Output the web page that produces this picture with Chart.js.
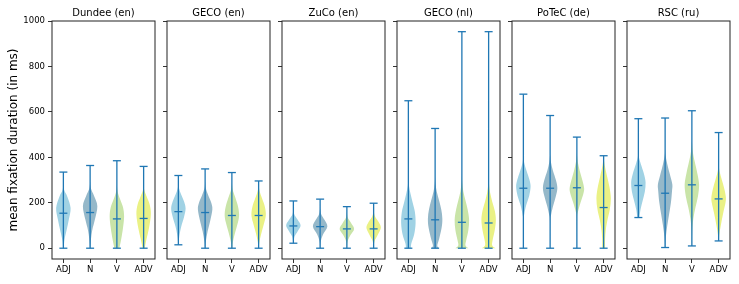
<!DOCTYPE html>
<html>
<head>
<meta charset="utf-8">
<script src="https://cdn.jsdelivr.net/npm/chart.js@4"></script>
<style>
    body { margin: 0; background: #fff; }
    #wrap { position: relative; width: 739px; height: 284px; }
    #wrap canvas { position: absolute; left: 0; top: 0; }
</style>
</head>
<body>
<div id="wrap"></div>
<script>
const panelTitles = ["Dundee (en)", "GECO (en)", "ZuCo (en)", "GECO (nl)", "PoTeC (de)", "RSC (ru)"];
const posTags = ["ADJ", "N", "V", "ADV"];
const yTicks = [0, 200, 400, 600, 800, 1000];

// whisker ends and medians, one row per panel (ADJ, N, V, ADV)
const mins = [[0, 0, 0, 0], [15, 0, 0, 0], [22, 0, 0, 0], [0, 0, 0, 0], [0, 0, 0, 0], [135, 3, 10, 32]];
const maxs = [[335, 364, 385, 360], [320, 349, 333, 296], [208, 216, 183, 198], [649, 527, 953, 953], [678, 584, 489, 407], [570, 573, 605, 509]];
const medians = [[154, 157, 129, 131], [161, 157, 144, 144], [98, 95, 85, 85], [129, 125, 114, 111], [264, 264, 266, 179], [276, 242, 279, 217]];

// violin outlines: [ms, relative half width]
const dundeeShape = [
    [[0, 0.05], [37, 0.15], [80, 0.45], [125, 0.75], [177, 1], [227, 0.55], [257, 0.1], [290, 0]],
    [[0, 0.04], [40, 0.12], [80, 0.3], [125, 0.65], [185, 1], [230, 0.55], [264, 0.1], [295, 0]],
    [[0, 0.35], [40, 0.6], [90, 0.85], [140, 1], [180, 0.85], [215, 0.45], [250, 0.1], [280, 0]],
    [[0, 0.15], [40, 0.4], [90, 0.75], [150, 1], [190, 0.85], [225, 0.45], [255, 0.1], [285, 0]]
];
const gecoEnShape = [
    [[15, 0.03], [50, 0.12], [95, 0.4], [140, 0.8], [175, 1], [205, 0.8], [235, 0.4], [265, 0.08], [295, 0]],
    [[0, 0.03], [30, 0.1], [75, 0.35], [120, 0.7], [170, 1], [200, 0.85], [235, 0.4], [265, 0.08], [295, 0]],
    [[0, 0.04], [30, 0.15], [75, 0.5], [115, 0.85], [150, 1], [190, 0.8], [230, 0.4], [260, 0.1], [290, 0]],
    [[0, 0.03], [30, 0.12], [75, 0.45], [115, 0.8], [150, 1], [190, 0.8], [230, 0.35], [260, 0.08], [285, 0]]
];
const zucoShape = [
    [[22, 0.03], [50, 0.15], [75, 0.6], [100, 1], [125, 0.6], [150, 0.12], [175, 0]],
    [[0, 0.02], [30, 0.08], [60, 0.4], [95, 1], [125, 0.6], [150, 0.15], [175, 0]],
    [[0, 0.02], [30, 0.1], [60, 0.55], [85, 1], [110, 0.6], [135, 0.12], [160, 0]],
    [[0, 0.02], [30, 0.12], [60, 0.6], [90, 1], [115, 0.7], [140, 0.2], [165, 0]]
];
const gecoNlShape = [
    [[0, 0.35], [20, 0.4], [60, 0.8], [110, 1], [160, 0.9], [200, 0.6], [240, 0.3], [275, 0.08], [310, 0]],
    [[0, 0.5], [12, 0.3], [40, 0.55], [90, 0.9], [130, 1], [170, 0.85], [210, 0.55], [250, 0.22], [285, 0.05], [320, 0]],
    [[0, 0.9], [12, 0.5], [35, 0.6], [80, 0.9], [125, 1], [170, 0.8], [210, 0.5], [250, 0.2], [290, 0.05], [330, 0]],
    [[0, 0.95], [12, 0.5], [35, 0.55], [80, 0.85], [125, 1], [165, 0.85], [205, 0.5], [245, 0.2], [285, 0.05], [320, 0]]
];
const potecShape = [
    [[0, 0], [120, 0.02], [150, 0.12], [190, 0.4], [230, 0.8], [270, 1], [300, 0.85], [340, 0.45], [375, 0.12], [410, 0]],
    [[0, 0], [120, 0.02], [150, 0.15], [190, 0.45], [230, 0.8], [265, 1], [300, 0.8], [340, 0.4], [380, 0.1], [415, 0]],
    [[0, 0], [130, 0.03], [160, 0.15], [200, 0.5], [240, 0.9], [265, 1], [300, 0.75], [340, 0.4], [380, 0.12], [420, 0]],
    [[0, 0.2], [40, 0.2], [80, 0.3], [120, 0.5], [170, 0.85], [220, 1], [270, 0.8], [320, 0.45], [365, 0.15], [400, 0]]
];
const rscShape = [
    [[135, 0.15], [170, 0.3], [210, 0.6], [250, 0.9], [290, 1], [330, 0.75], [370, 0.35], [400, 0.08], [430, 0]],
    [[3, 0.03], [50, 0.1], [100, 0.3], [150, 0.55], [200, 0.8], [250, 0.95], [280, 1], [320, 0.7], [370, 0.3], [410, 0.05], [440, 0]],
    [[10, 0.02], [80, 0.05], [130, 0.2], [180, 0.5], [230, 0.85], [280, 1], [330, 0.75], [380, 0.4], [420, 0.15], [460, 0.03], [490, 0]],
    [[32, 0.03], [60, 0.1], [100, 0.3], [150, 0.6], [200, 0.95], [225, 1], [260, 0.8], [300, 0.45], [340, 0.12], [375, 0]]
];
const shapes = [dundeeShape, gecoEnShape, zucoShape, gecoNlShape, potecShape, rscShape];

const fills = ["#a0d2e4", "#95b8c9", "#c9e4a8", "#eaf185"];
const lineBlue = "#1f77b4";
const FONT = "'DejaVu Sans', sans-serif";

const W = 739, H = 284;
const panelLeft = [52, 167, 282, 397, 512, 627];
const panelW = 103;
const halfWidth = 0.27;

function smoothTo(ctx, pts) {
    for (let i = 0; i < pts.length - 1; i++) {
        const p0 = pts[i - 1] || pts[i], p1 = pts[i], p2 = pts[i + 1], p3 = pts[i + 2] || p2;
        ctx.bezierCurveTo(
            p1.x + (p2.x - p0.x) / 6, p1.y + (p2.y - p0.y) / 6,
            p2.x - (p3.x - p1.x) / 6, p2.y - (p3.y - p1.y) / 6,
            p2.x, p2.y);
    }
}

const violinPlugin = {
    id: "violins",
    beforeDatasetsDraw(chart, args, opts) {
        const ctx = chart.ctx, xs = chart.scales.x, ys = chart.scales.y;
        opts.shape.forEach((knots, i) => {
            const pos = i + 1;
            const right = knots.map(k => ({ x: xs.getPixelForValue(pos + k[1] * halfWidth), y: ys.getPixelForValue(k[0]) }));
            const left = knots.map(k => ({ x: xs.getPixelForValue(pos - k[1] * halfWidth), y: ys.getPixelForValue(k[0]) })).reverse();
            ctx.save();
            ctx.beginPath();
            ctx.moveTo(right[0].x, right[0].y);
            smoothTo(ctx, right);
            ctx.lineTo(left[0].x, left[0].y);
            smoothTo(ctx, left);
            ctx.closePath();
            ctx.fillStyle = fills[i];
            ctx.fill();
            ctx.restore();
        });
    },
    afterDatasetsDraw(chart) {
        const a = chart.chartArea, ctx = chart.ctx;
        ctx.save();
        ctx.strokeStyle = "#222";
        ctx.lineWidth = 1;
        ctx.strokeRect(a.left, a.top, a.right - a.left, a.bottom - a.top);
        ctx.restore();
    }
};

const wrap = document.getElementById("wrap");

panelTitles.forEach((title, p) => {
    const canvas = document.createElement("canvas");
    canvas.width = W;
    canvas.height = H;
    wrap.appendChild(canvas);

    const first = p === 0;
    const yWidth = first ? 52 : 5;
    const whiskers = [];
    const caps = [];
    const meds = [];
    posTags.forEach((tag, i) => {
        whiskers.push({ x: i + 1, y: mins[p][i] }, { x: i + 1, y: maxs[p][i] }, { x: i + 1, y: null });
        caps.push({ x: i + 1, y: mins[p][i] }, { x: i + 1, y: maxs[p][i] });
        meds.push({ x: i + 1, y: medians[p][i] });
    });

    new Chart(canvas.getContext("2d"), {
        type: "scatter",
        data: {
            datasets: [
                { data: whiskers, showLine: true, borderColor: lineBlue, borderWidth: 1.3, pointRadius: 0, spanGaps: false },
                { data: caps, pointStyle: "line", pointRadius: 4, borderColor: lineBlue, borderWidth: 1.3 },
                { data: meds, pointStyle: "line", pointRadius: 4, borderColor: lineBlue, borderWidth: 1.3 }
            ]
        },
        options: {
            responsive: false,
            animation: false,
            devicePixelRatio: 1,
            events: [],
            layout: {
                padding: { left: panelLeft[p] - yWidth, right: W - panelLeft[p] - panelW, top: 3, bottom: 0 }
            },
            plugins: {
                legend: { display: false },
                tooltip: { enabled: false },
                title: {
                    display: true,
                    text: title,
                    fullSize: false,
                    color: "#000",
                    font: { family: FONT, size: 10, weight: "normal", lineHeight: 1.2 },
                    padding: { top: 4, bottom: 2 }
                },
                violins: { shape: shapes[p] }
            },
            scales: {
                x: {
                    type: "linear",
                    min: 0.575,
                    max: 4.425,
                    afterBuildTicks: s => { s.ticks = posTags.map((t, i) => ({ value: i + 1 })); },
                    afterFit: s => { s.height = 25; },
                    ticks: {
                        callback: v => posTags[v - 1],
                        color: "#000",
                        padding: 2,
                        maxRotation: 0,
                        autoSkip: false,
                        font: { family: FONT, size: 8.5 }
                    },
                    grid: { display: true, drawOnChartArea: false, drawTicks: true, tickLength: 4, color: "#000", lineWidth: 0.8 },
                    border: { display: false }
                },
                y: {
                    type: "linear",
                    min: -47.5,
                    max: 1000,
                    bounds: "data",
                    afterBuildTicks: s => { s.ticks = yTicks.map(v => ({ value: v })); },
                    afterFit: s => { s.width = yWidth; },
                    ticks: {
                        display: first,
                        callback: v => String(v),
                        color: "#000",
                        padding: 3,
                        font: { family: FONT, size: 8.5 }
                    },
                    title: {
                        display: first,
                        text: "mean fixation duration (in ms)",
                        color: "#000",
                        font: { family: FONT, size: 12 },
                        padding: { top: 7, bottom: 0 }
                    },
                    grid: { display: true, drawOnChartArea: false, drawTicks: true, tickLength: 4, color: "#000", lineWidth: 0.8 },
                    border: { display: false }
                }
            }
        },
        plugins: [violinPlugin]
    });
});
</script>
</body>
</html>
